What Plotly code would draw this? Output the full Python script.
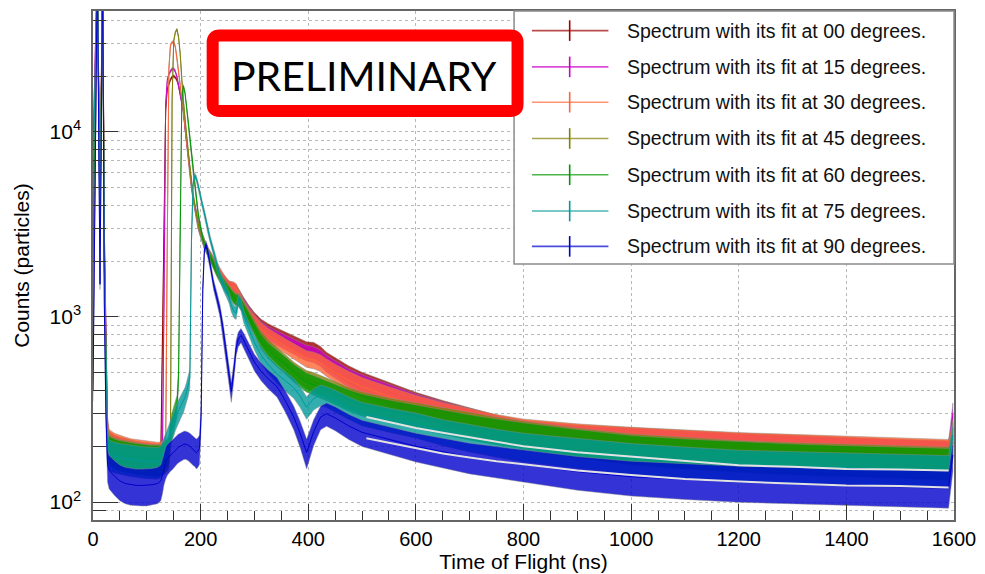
import plotly.graph_objects as go

# ---------------- data ----------------
TOF_NS = [0, 8, 13, 18, 21, 24, 27,
          30, 40, 50, 60, 70, 80, 90, 100, 110, 120,
          126,
          129, 132, 135, 138, 141, 144, 147, 150, 153, 156, 159, 162, 165, 168, 171,
          174, 177, 180, 183, 186, 189, 192, 195, 198, 201, 204, 207, 210, 213,
          218, 224, 230, 236, 242, 248,
          253, 257, 262, 266, 270, 275, 280,
          290, 300, 312, 325, 342, 358, 373, 385, 397, 410, 423, 434, 450, 475, 500,
          550, 600, 650, 700, 750, 800,
          900, 1000, 1100, 1200, 1300, 1400, 1500,
          1590, 1598]

COUNTS_00 = [1500, 80000, 4000, 80000, 3000, 600, 240,
             205, 195, 190, 186, 183, 180, 178, 176, 175, 173,
             175,
             700, 3000, 13000, 17000, 18200, 19200, 19800, 20000, 19700, 19000, 17800, 16200, 14500, 13000, 10600,
             8800, 7300, 6000, 5100, 4450, 3950, 3550, 3200, 2950, 2780, 2630, 2480, 2370, 2270,
             2140, 1970, 1820, 1700, 1600, 1510,
             1460, 1440, 1420, 1400, 1340, 1260, 1190,
             1070, 980, 900, 850, 800, 760, 725, 695, 670, 665, 630, 585, 545, 490, 450,
             395, 345, 310, 280, 255, 238,
             224, 216, 208, 200, 195, 189, 184,
             181, 250]

COUNTS_15 = [8000, 80000, 3000, 80000, 2500, 550, 230,
             200, 192, 188, 184, 181, 179, 177, 175, 174, 172,
             174,
             180, 1200, 14000, 19000, 20500, 21300, 21900, 21900, 21200, 19800, 17800, 16000, 14300, 12900, 10500,
             8700, 7200, 5950, 5050, 4400, 3900, 3500, 3150, 2900, 2750, 2600, 2450, 2350, 2250,
             2120, 1960, 1810, 1690, 1590, 1510,
             1470, 1450, 1430, 1390, 1320, 1240, 1170,
             1050, 955, 870, 820, 770, 730, 695, 665, 640, 630, 600, 560, 525, 470, 435,
             385, 338, 305, 277, 253, 237,
             222, 214, 206, 199, 194, 188, 184,
             180, 300]

COUNTS_30 = [600, 80000, 5000, 80000, 2000, 500, 250,
             210, 200, 194, 190, 186, 184, 182, 180, 178, 177,
             178,
             180, 185, 195, 2500, 22000, 29500, 30500, 30700, 28800, 25000, 21500, 17800, 14800, 13100, 10700,
             8800, 7300, 6000, 5100, 4450, 3950, 3550, 3200, 2950, 2780, 2630, 2480, 2370, 2280,
             2150, 1990, 1840, 1720, 1620, 1530,
             1470, 1460, 1450, 1420, 1330, 1230, 1150,
             1030, 950, 860, 800, 740, 695, 655, 625, 595, 585, 565, 535, 500, 455, 420,
             372, 332, 302, 278, 257, 242,
             227, 217, 209, 202, 197, 192, 188,
             184, 240]

COUNTS_45 = [3000, 80000, 3500, 80000, 2200, 520, 225,
             195, 188, 184, 181, 178, 176, 174, 172, 171, 170,
             171,
             172, 174, 176, 180, 186, 230, 15000, 31000, 34500, 35800, 32500, 26500, 18800, 14500, 11800,
             9500, 7700, 6300, 5300, 4550, 4000, 3600, 3250, 2980, 2790, 2630, 2470, 2350, 2250,
             2110, 1940, 1780, 1650, 1540, 1450,
             1400, 1340, 1280, 1250, 1260, 1200, 1130,
             1000, 890, 770, 690, 620, 565, 515, 485, 460, 448, 432, 418, 398, 368, 347,
             320, 300, 280, 263, 248, 235,
             214, 198, 189, 181, 176, 172, 169,
             166, 220]

COUNTS_60 = [2000, 80000, 3000, 80000, 2000, 500, 220,
             192, 185, 181, 178, 176, 174, 172, 171, 170, 169,
             170,
             172, 176, 180, 186, 195, 240, 265, 285, 305, 330, 480, 4000, 14500, 17700, 16200,
             13600, 11200, 9000, 7400, 6100, 5100, 4300, 3700, 3250, 2900, 2650, 2480, 2350, 2240,
             2100, 1920, 1760, 1630, 1520, 1430,
             1380, 1320, 1260, 1230, 1240, 1180, 1110,
             980, 870, 740, 665, 598, 548, 500, 470, 445, 430, 415, 402, 385, 357, 337,
             312, 292, 273, 256, 242, 230,
             210, 194, 185, 178, 173, 169, 166,
             163, 210]

COUNTS_75 = [5000, 80000, 2500, 80000, 1800, 480, 210,
             182, 177, 174, 172, 170, 168, 167, 166, 165, 165,
             168,
             178, 190, 200, 212, 225, 240, 255, 268, 285, 300, 312, 325, 338, 350, 368,
             395, 425, 470, 2600, 5200, 5800, 5600, 5200, 4700, 4300, 3950, 3650, 3300, 3000,
             2600, 2250, 1900, 1660, 1490, 1370,
             1270, 1150, 1070, 1050, 1230, 1170, 1010,
             860, 730, 625, 555, 492, 448, 415, 372, 325, 362, 380, 372, 355, 325, 302,
             280, 262, 240, 224, 211, 200,
             186, 174, 166, 159, 156, 153, 151,
             148, 230]

COUNTS_90 = [400, 80000, 1500, 80000, 1200, 300, 160,
             148, 138, 130, 126, 124, 123, 123, 123, 124, 126,
             130,
             140, 155, 165, 172, 176, 180, 183, 186, 190, 195, 198, 200, 203, 205, 206,
             205, 203, 200, 196, 192, 190, 185, 188, 195, 300, 1400, 2300, 2450, 2300,
             1900, 1500, 1280, 1080, 850, 620,
             480, 395, 520, 680, 760, 795, 750,
             650, 570, 510, 465, 420, 350, 288, 235, 185, 240, 288, 300, 285, 258, 238,
             218, 200, 187, 175, 167, 160,
             146, 137, 132, 128, 126, 124, 122,
             120, 180]

FIT_X = [508, 550, 600, 650, 700, 750, 800, 900, 1000, 1100, 1200, 1300, 1400, 1500, 1590]
FIT_75 = [288, 270, 251, 237, 224, 210, 200, 186, 176, 166, 158, 155, 151, 150, 148]
FIT_90 = [221, 209, 195, 183, 174, 166, 160, 148, 140, 133, 129, 126, 123, 122, 120]

ANGLES = ["00", "15", "30", "45", "60", "75", "90"]
SERIES = [COUNTS_00, COUNTS_15, COUNTS_30, COUNTS_45, COUNTS_60, COUNTS_75, COUNTS_90]

X_TICKS = [0, 200, 400, 600, 800, 1000, 1200, 1400, 1600]
X_MINOR = [v for v in range(50, 1600, 50) if v % 200]
Y_TICKS = [100, 1000, 10000]
Y_TICKTEXT = ["10<sup>2</sup>", "10<sup>3</sup>", "10<sup>4</sup>"]
Y_MINOR = [90] + [m * 10 ** e for e in (2, 3) for m in range(2, 10)] + [20000, 30000, 40000]

# ---------------- style ----------------
COLORS = ["#a00000", "#cc00cc", "#ff6633", "#808000", "#009900", "#009999", "#0000cc"]
FIT_COLOR = "#e2e2e2"
NOISE_SIGMAS = 2.5      # drawn spread = +/- 2.5 Poisson sigma
FONT = "Liberation Sans, Arial, Helvetica, sans-serif"

W, H = 985, 574
ML, MR, MT, MB = 93, 25, 9, 46
PW, PH = W - ML - MR, H - MT - MB


def xp(px):
    return (px - ML) / PW


def yp(py):
    return (H - MB - py) / PH


def rgba(hex_color, a):
    h = hex_color.lstrip("#")
    return "rgba(%d,%d,%d,%s)" % (int(h[0:2], 16), int(h[2:4], 16), int(h[4:6], 16), a)


fig = go.Figure()

for angle, counts, color in zip(ANGLES, SERIES, COLORS):
    upper = [c + NOISE_SIGMAS * c ** 0.5 for c in counts]
    lower = [c - NOISE_SIGMAS * c ** 0.5 for c in counts]
    fig.add_trace(go.Scatter(
        x=TOF_NS + TOF_NS[::-1], y=upper + lower[::-1],
        fill="toself", fillcolor=rgba(color, 0.8),
        line=dict(width=1, color="rgba(140,140,140,0.45)"),
        mode="lines", hoverinfo="skip", showlegend=False))
    fig.add_trace(go.Scatter(
        x=TOF_NS, y=counts, mode="lines", line=dict(color=color, width=1),
        name="Spectrum with its fit at %s degrees." % angle, showlegend=False))

for fit in (FIT_75, FIT_90):
    fig.add_trace(go.Scatter(x=FIT_X, y=fit, mode="lines",
                             line=dict(color=FIT_COLOR, width=2), showlegend=False,
                             hoverinfo="skip"))

grid = dict(gridcolor="#b8b8b8", griddash="dot", gridwidth=1)

fig.update_layout(
    width=W, height=H, margin=dict(l=ML, r=MR, t=MT, b=MB, pad=0),
    paper_bgcolor="white", plot_bgcolor="white",
    font=dict(family=FONT, size=19, color="black"),
    showlegend=False,
    xaxis=dict(
        range=[0, 1600], tickmode="array", tickvals=X_TICKS,
        ticks="inside", ticklen=16, tickwidth=1, tickcolor="#333",
        tickfont=dict(size=20),
        showline=True, mirror=True, linecolor="#666", linewidth=1.5,
        showgrid=True, zeroline=False, **grid,
        minor=dict(tickmode="array", tickvals=X_MINOR, ticks="inside", ticklen=9,
                   tickwidth=1, tickcolor="#333", showgrid=False),
        title=dict(text="Time of Flight (ns)", standoff=1, font=dict(size=21)),
    ),
    yaxis=dict(
        type="log", range=[1.903, 4.653], tickmode="array",
        tickvals=Y_TICKS, ticktext=Y_TICKTEXT,
        ticks="inside", ticklen=25, tickwidth=1, tickcolor="#333",
        tickfont=dict(size=21),
        showline=True, mirror=True, linecolor="#666", linewidth=1.5,
        showgrid=True, zeroline=False, **grid,
        ticklabelstandoff=6,
        minor=dict(tickmode="array", tickvals=Y_MINOR, ticks="inside", ticklen=13,
                   tickwidth=1, tickcolor="#333", showgrid=True, **grid),
        title=dict(text="Counts (particles)", standoff=14, font=dict(size=21)),
    ),
)

shapes = []
annotations = []

# legend box (ROOT style)
shapes.append(dict(type="rect", xref="paper", yref="paper",
                   x0=xp(517), x1=xp(960), y0=yp(267), y1=yp(9),
                   fillcolor="white", line=dict(color="#8c8c8c", width=1.5), layer="above"))
LEG_ROWS = [29, 66, 102, 139, 176, 213, 249]
for angle, color, py in zip(ANGLES, COLORS, LEG_ROWS):
    shapes.append(dict(type="line", xref="paper", yref="paper",
                       x0=xp(535), x1=xp(612), y0=yp(py), y1=yp(py),
                       line=dict(color=rgba(color, 0.7), width=1.6), layer="above"))
    shapes.append(dict(type="line", xref="paper", yref="paper",
                       x0=xp(573), x1=xp(573), y0=yp(py - 10.5), y1=yp(py + 10.5),
                       line=dict(color=color, width=1.6), layer="above"))
    annotations.append(dict(xref="paper", yref="paper", x=xp(629), y=yp(py),
                            xanchor="left", yanchor="middle", showarrow=False,
                            text="Spectrum with its fit at %s degrees." % angle,
                            font=dict(family=FONT, size=19.5, color="#111")))


# PRELIMINARY stamp
def rounded_rect(x0, y0, x1, y1, r):
    pts = [("M", x0 + r, y0), ("L", x1 - r, y0), ("Q", x1, y0, x1, y0 + r),
           ("L", x1, y1 - r), ("Q", x1, y1, x1 - r, y1), ("L", x0 + r, y1),
           ("Q", x0, y1, x0, y1 - r), ("L", x0, y0 + r), ("Q", x0, y0, x0 + r, y0)]
    out = []
    for p in pts:
        cmd, coords = p[0], p[1:]
        conv = []
        for i in range(0, len(coords), 2):
            conv.append("%.5f,%.5f" % (xp(coords[i]), yp(coords[i + 1])))
        out.append(cmd + " " + " ".join(conv))
    return " ".join(out) + " Z"


shapes.append(dict(type="path", xref="paper", yref="paper",
                   path=rounded_rect(213.5, 34, 520.5, 111, 7),
                   fillcolor="white", line=dict(color="#ff0000", width=12), layer="above"))
annotations.append(dict(xref="paper", yref="paper", x=xp(366), y=yp(75),
                        xanchor="center", yanchor="middle", showarrow=False,
                        text="PRELIMINARY",
                        font=dict(family="Lato, Open Sans, sans-serif", size=41, color="black")))

fig.update_layout(shapes=shapes, annotations=annotations)

fig.write_html("out.html")
